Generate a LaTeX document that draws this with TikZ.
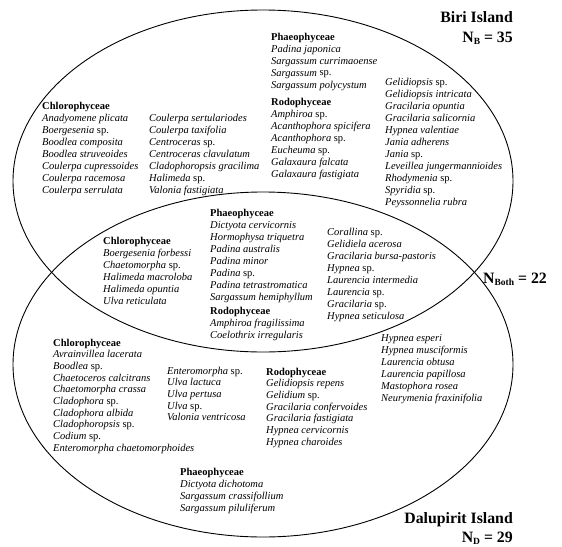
\documentclass[tikz,border=0pt]{standalone}
\usepackage{fontspec}
\setmainfont{Liberation Serif}
\newcommand\hdg[1]{{\normalfont\bfseries #1}}
\newcommand\spp{\textup{sp.}}
\newcommand\splist[1]{\begin{tabular}[t]{@{}l@{}}#1\end{tabular}}
\newcommand\sbs[1]{\raisebox{-0.35ex}{\fontsize{9.5}{9.5}\selectfont #1}}
\begin{document}
\begin{tikzpicture}[x=1pt,y=-1pt,
  blk/.style={anchor=base west, inner sep=0pt, font=\fontsize{10.5}{12}\selectfont\itshape},
  blkb/.style={blk, font=\fontsize{10.5}{11.7}\selectfont\itshape},
  bigl/.style={inner sep=0pt, font=\fontsize{15.8}{18}\selectfont\bfseries},
  venn/.style={draw=black, line width=0.9pt}]
\useasboundingbox (0,0) rectangle (562,546);
\fill[white] (0,0) rectangle (562,546);
% ellipses
\draw[venn] (263,181) ellipse [x radius=250pt, y radius=171pt];
\draw[venn] (263,364.5) ellipse [x radius=250pt, y radius=172.5pt];
% big labels
\node[bigl, anchor=base east] (biri) at (513,23) {Biri Island};
\node[bigl, anchor=base east] (nb) at (513,42) {N\sbs{B} = 35};
\node[bigl, anchor=base west] (nboth) at (483,283) {N\sbs{Both} = 22};
\node[bigl, anchor=base east] (dalu) at (513,523) {Dalupirit Island};
\node[bigl, anchor=base east] (nd) at (513,542) {N\sbs{D} = 29};
% Biri only
\node[blk] (bchl1) at (42,109) {\splist{\hdg{Chlorophyceae}\\
Anadyomene plicata\\
Boergesenia \spp\\
Boodlea composita\\
Boodlea struveoides\\
Coulerpa cupressoides\\
Coulerpa racemosa\\
Coulerpa serrulata}};
\node[blk] (bchl2) at (149,121) {\splist{Coulerpa sertulariodes\\
Coulerpa taxifolia\\
Centroceras \spp\\
Centroceras clavulatum\\
Cladophoropsis gracilima\\
Halimeda \spp\\
Valonia fastigiata}};
\node[blk] (bpha) at (271,40) {\splist{\hdg{Phaeophyceae}\\
Padina japonica\\
Sargassum currimaoense\\
Sargassum \spp\\
Sargassum polycystum}};
\node[blk] (brod1) at (271,105) {\splist{\hdg{Rodophyceae}\\
Amphiroa \spp\\
Acanthophora spicifera\\
Acanthophora \spp\\
Eucheuma \spp\\
Galaxaura falcata\\
Galaxaura fastigiata}};
\node[blk] (brod2) at (385,85) {\splist{Gelidiopsis \spp\\
Gelidiopsis intricata\\
Gracilaria opuntia\\
Gracilaria salicornia\\
Hypnea valentiae\\
Jania adherens\\
Jania \spp\\
Leveillea jungermannioides\\
Rhodymenia \spp\\
Spyridia \spp\\
Peyssonnelia rubra}};
% Both
\node[blk] (ochl) at (103,244) {\splist{\hdg{Chlorophyceae}\\
Boergesenia forbessi\\
Chaetomorpha \spp\\
Halimeda macroloba\\
Halimeda opuntia\\
Ulva reticulata}};
\node[blk] (opha) at (210,216) {\splist{\hdg{Phaeophyceae}\\
Dictyota cervicornis\\
Hormophysa triquetra\\
Padina australis\\
Padina minor\\
Padina \spp\\
Padina tetrastromatica\\
Sargassum hemiphyllum}};
\node[blk] (orod1) at (210,314) {\splist{\hdg{Rodophyceae}\\
Amphiroa fragilissima\\
Coelothrix irregularis}};
\node[blk] (orod2) at (327,235) {\splist{Corallina \spp\\
Gelidiela acerosa\\
Gracilaria bursa-pastoris\\
Hypnea \spp\\
Laurencia intermedia\\
Laurencia \spp\\
Gracilaria \spp\\
Hypnea seticulosa}};
% Dalupirit only
\node[blkb] (dchl1) at (53,346) {\splist{\hdg{Chlorophyceae}\\
Avrainvillea lacerata\\
Boodlea \spp\\
Chaetoceros calcitrans\\
Chaetomorpha crassa\\
Cladophora \spp\\
Cladophora albida\\
Cladophoropsis \spp\\
Codium \spp\\
Enteromorpha chaetomorphoides}};
\node[blkb] (dchl2) at (167,374) {\splist{Enteromorpha \spp\\
Ulva lactuca\\
Ulva pertusa\\
Ulva \spp\\
Valonia ventricosa}};
\node[blkb] (drod1) at (266,375) {\splist{\hdg{Rodophyceae}\\
Gelidiopsis repens\\
Gelidium \spp\\
Gracilaria confervoides\\
Gracilaria fastigiata\\
Hypnea cervicornis\\
Hypnea charoides}};
\node[blk] (drod2) at (381,341) {\splist{Hypnea esperi\\
Hypnea musciformis\\
Laurencia obtusa\\
Laurencia papillosa\\
Mastophora rosea\\
Neurymenia fraxinifolia}};
\node[blk] (dpha) at (180,475) {\splist{\hdg{Phaeophyceae}\\
Dictyota dichotoma\\
Sargassum crassifollium\\
Sargassum piluliferum}};
\end{tikzpicture}
\end{document}
